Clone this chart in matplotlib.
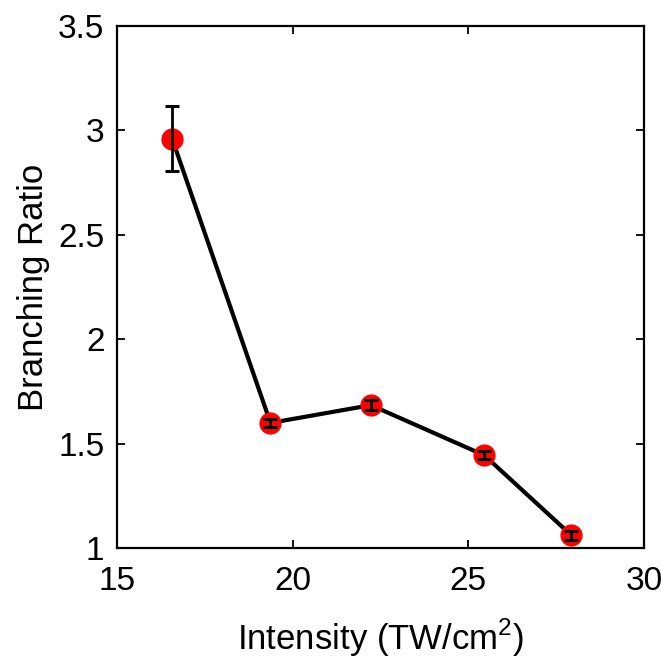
import matplotlib.pyplot as plt

plt.rcParams["font.family"] = ["Liberation Sans", "DejaVu Sans"]
plt.rcParams["mathtext.fontset"] = "custom"
plt.rcParams["mathtext.rm"] = "Liberation Sans"

intensity = [16.57, 19.37, 22.23, 25.46, 27.94]
ratio = [2.96, 1.60, 1.685, 1.445, 1.062]
ratio_err = [0.155, 0.02, 0.025, 0.02, 0.02]

fig = plt.figure(figsize=(6.61, 6.63), dpi=100)
ax = fig.add_axes([0.177, 0.173, 0.797, 0.788])

ax.plot(intensity, ratio, color="black", lw=3, zorder=1)
ax.errorbar(intensity, ratio, yerr=ratio_err, fmt="none", ecolor="black",
            elinewidth=2, capsize=5, capthick=2.2, zorder=3)
ax.plot(intensity, ratio, "o", color="red", ms=15, mec="red", zorder=2)

ax.set_xlim(15, 30)
ax.set_ylim(1, 3.5)
ax.set_xticks([15, 20, 25, 30])
ax.set_yticks([1, 1.5, 2, 2.5, 3, 3.5])
ax.set_yticklabels(["1", "1.5", "2", "2.5", "3", "3.5"])
ax.tick_params(direction="in", top=True, right=True, labelsize=24, length=6,
               width=1.3)
ax.tick_params(axis="x", pad=13)
ax.tick_params(axis="y", pad=9)
for s in ax.spines.values():
    s.set_linewidth(1.6)
ax.set_xlabel("Intensity (TW/cm$^\\mathregular{2}$)", fontsize=25, labelpad=14)
ax.set_ylabel("Branching Ratio", fontsize=25, labelpad=6)

fig.savefig("out.png", dpi=100)
